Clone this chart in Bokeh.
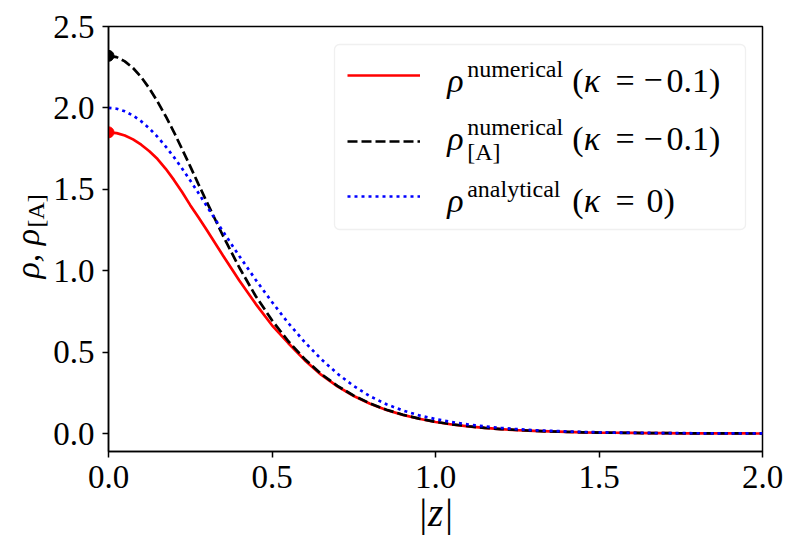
import math
from bokeh.plotting import figure
from bokeh.models import (Label, Legend, LegendItem, BoxAnnotation, FixedTicker,
                          PrintfTickFormatter, Range1d)
from bokeh.embed import file_html
from bokeh.resources import INLINE

# ---------------- data ----------------
z = [0.000, 0.025, 0.050, 0.075, 0.100, 0.125, 0.150, 0.175, 0.200, 0.225,
     0.250, 0.275, 0.30, 0.35, 0.40, 0.45,
     0.50, 0.55, 0.60, 0.65, 0.70, 0.75, 0.80, 0.85, 0.90, 0.95,
     1.00, 1.05, 1.10, 1.15, 1.20, 1.25, 1.30, 1.35, 1.40, 1.45,
     1.50, 1.55, 1.60, 1.65, 1.70, 1.75, 1.80, 1.85, 1.90, 1.95, 2.00]

rho_numerical = [1.850, 1.845, 1.831, 1.807, 1.774, 1.734, 1.686, 1.626, 1.558, 1.484,
                 1.403, 1.328, 1.252, 1.094, 0.940, 0.797,
                 0.665, 0.555, 0.451, 0.362, 0.290, 0.231, 0.183, 0.145, 0.115, 0.091,
                 0.071, 0.056, 0.044, 0.035, 0.027, 0.021, 0.017, 0.013, 0.010, 0.008,
                 0.0063, 0.005, 0.004, 0.003, 0.0024, 0.0019, 0.0015, 0.0012, 0.0009, 0.0007, 0.0006]

rho_A_numerical = [2.320, 2.312, 2.286, 2.245, 2.189, 2.120, 2.039, 1.949, 1.852, 1.747,
                   1.641, 1.532, 1.425, 1.215, 1.020, 0.845,
                   0.696, 0.567, 0.458, 0.367, 0.293, 0.233, 0.185, 0.146, 0.116, 0.092,
                   0.072, 0.057, 0.045, 0.035, 0.028, 0.022, 0.017, 0.013, 0.011, 0.008,
                   0.0065, 0.005, 0.004, 0.003, 0.0025, 0.002, 0.0015, 0.0012, 0.0009, 0.0007, 0.0006]

rho_analytical = [2.000, 1.995, 1.979, 1.953, 1.918, 1.874, 1.822, 1.763, 1.698, 1.628,
                  1.554, 1.478, 1.398, 1.242, 1.090, 0.945,
                  0.808, 0.678, 0.562, 0.458, 0.368, 0.292, 0.229, 0.180, 0.142, 0.112,
                  0.089, 0.071, 0.056, 0.044, 0.035, 0.027, 0.021, 0.017, 0.013, 0.010,
                  0.008, 0.006, 0.005, 0.004, 0.003, 0.0025, 0.002, 0.0015, 0.0012, 0.001, 0.0008]

x_ticks = [0.0, 0.5, 1.0, 1.5, 2.0]
y_ticks = [0.0, 0.5, 1.0, 1.5, 2.0, 2.5]

FONT = "'Liberation Serif', 'DejaVu Serif', serif"

XMIN, XMAX, YMIN, YMAX = 0.0, 2.0, -0.11, 2.5
# frame in page pixels
FL, FR, FT, FB = 108, 762, 26, 451

# ---------------- figure ----------------
p = figure(width=798, height=553, output_backend="svg", toolbar_location=None,
           x_range=Range1d(XMIN, XMAX), y_range=Range1d(YMIN, YMAX),
           min_border_left=FL, min_border_right=798 - FR, min_border_top=FT,
           min_border_bottom=553 - FB)
p.background_fill_color = "white"
p.border_fill_color = "white"
p.grid.visible = False
p.outline_line_color = "black"
p.outline_line_width = 1.5

for ax in (p.xaxis[0], p.yaxis[0]):
    ax.axis_line_color = "black"
    ax.axis_line_width = 1.5
    ax.major_tick_line_color = "black"
    ax.major_tick_line_width = 1.5
    ax.major_tick_out = 6
    ax.major_tick_in = 0
    ax.minor_tick_line_color = None
    ax.major_label_text_font = FONT
    ax.major_label_text_font_size = "33px"
    ax.major_label_text_color = "black"
    ax.formatter = PrintfTickFormatter(format="%.1f")
p.xaxis.ticker = FixedTicker(ticks=x_ticks)
p.yaxis.ticker = FixedTicker(ticks=y_ticks)
p.xaxis.major_label_standoff = 8
p.yaxis.major_label_standoff = 8
p.xaxis.axis_label = "|z|"
p.xaxis.axis_label_text_font = FONT
p.xaxis.axis_label_text_font_size = "39px"
p.xaxis.axis_label_text_font_style = "italic"
p.xaxis.axis_label_text_color = "black"
p.xaxis.axis_label_standoff = 0

# ---------------- curves ----------------
r_red = p.line(z, rho_numerical, line_color="#ff0000", line_width=2.7)
r_blk = p.line(z, rho_A_numerical, line_color="black", line_width=2.7, line_dash="10 4")
r_blu = p.line(z, rho_analytical, line_color="#0000ff", line_width=2.7, line_dash="3 4")
p.wedge([z[0]], [rho_numerical[0]], radius=5.5, radius_units="screen",
        start_angle=-math.pi / 2, end_angle=math.pi / 2, color="#ff0000")
p.wedge([z[0]], [rho_A_numerical[0]], radius=5.5, radius_units="screen",
        start_angle=-math.pi / 2, end_angle=math.pi / 2, color="black")


# ---------------- text helpers ----------------
def px2x(X):
    return XMIN + (X - FL) * (XMAX - XMIN) / (FR - FL)


def px2y(Y):
    return YMIN + (FB - Y) * (YMAX - YMIN) / (FB - FT)


SHIFT = 0.2  # baseline correction (em)


def txt(s, X, Y, size, style="normal", angle=0.0, place="center", data_units=False):
    if angle == 0.0:
        Y = Y - SHIFT * size
    else:
        X = X - SHIFT * size
    if data_units:
        lab = Label(x=px2x(X), y=px2y(Y), x_units="data", y_units="data")
    else:
        lab = Label(x=X - FL, y=FB - Y, x_units="screen", y_units="screen")
    lab.update(text=s, text_font=FONT, text_font_size=f"{size}px",
               text_font_style=style, text_color="black",
               text_baseline="alphabetic", text_align="left", angle=angle)
    if place == "center":
        p.add_layout(lab)
    else:
        p.add_layout(lab, place)


# y axis title: rho, rho_[A]  (side panels so they are not clipped by the frame;
# positioned through the plot scales)
txt("ρ, ρ", 33.5, 278, 34, "italic", math.pi / 2, "left", True)
txt("[A]", 40, 227, 24, "normal", math.pi / 2, "right", True)

# ---------------- legend ----------------
box = BoxAnnotation(left=334 - FL, right=745 - FL, top=FB - 44, bottom=FB - 229,
                    left_units="screen", right_units="screen",
                    top_units="screen", bottom_units="screen",
                    fill_color="white", fill_alpha=0.85,
                    line_color="#cccccc", line_width=1.3, border_radius=5)
p.add_layout(box)


def add_leg(r, Ymid):
    leg = Legend(items=[LegendItem(label=" ", renderers=[r])],
                 location=(346.7 - FL, FB - Ymid - 10),
                 glyph_width=73, glyph_height=20, label_height=20,
                 label_width=1, label_standoff=0, padding=0, margin=0, spacing=0,
                 border_line_alpha=0, background_fill_alpha=0,
                 label_text_font_size="1px")
    p.add_layout(leg)


add_leg(r_red, 75)
add_leg(r_blk, 141)
add_leg(r_blu, 195.7)

rows = [(86.7, "numerical", "−0.1)"), (145, "numerical", "−0.1)"), (206.7, "analytical", "0)")]
for i, (base, sup, tail) in enumerate(rows):
    txt("ρ", 446.7, base, 34, "italic")
    txt(sup, 466.7, base - 13.4, 24)
    if i == 1:
        txt("[A]", 466.7, base + 11.7, 24)
    txt("(", 571.7, base, 34)
    txt("κ", 583.3, base, 34, "italic")
    txt("=", 615, base, 34)
    if tail.startswith("−"):
        txt("−", 643, base, 34)
        txt(tail[1:], 666, base, 34)
    else:
        txt(tail, 646, base, 34)

open("out.html", "w").write(file_html(p, INLINE))
